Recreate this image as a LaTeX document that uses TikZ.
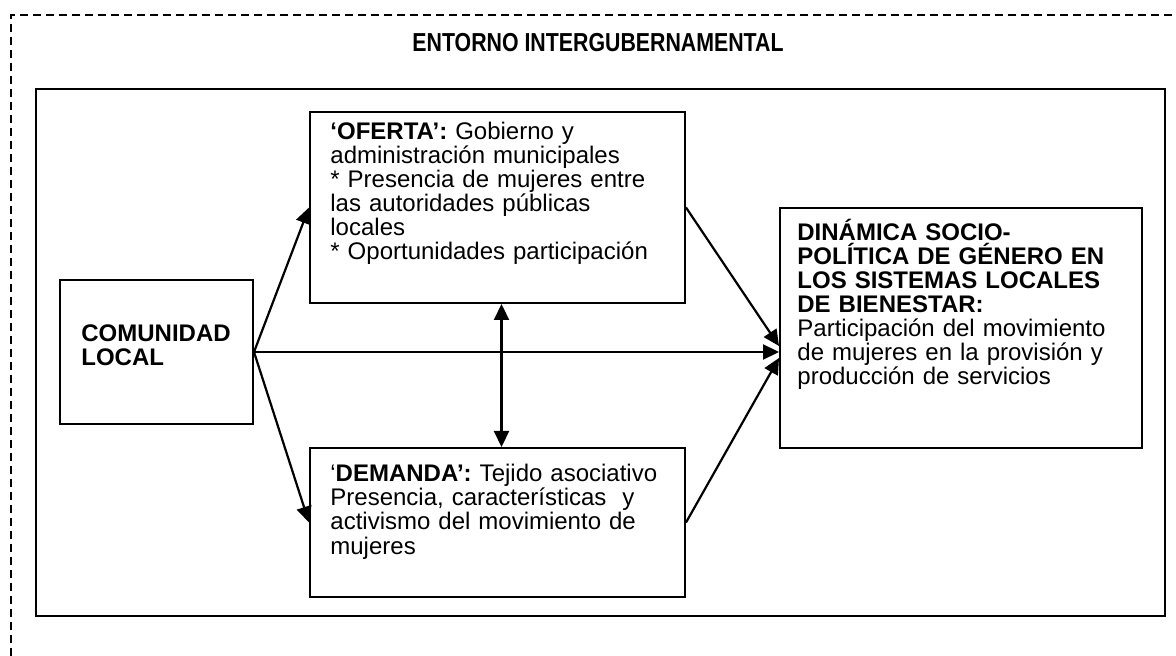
\documentclass[tikz,border=0pt]{standalone}
\usepackage{fontspec}
\setmainfont{Liberation Sans}
\newfontfamily\narrowfont[FakeStretch=0.82]{Liberation Sans}
\usetikzlibrary{calc}
\usetikzlibrary{arrows.meta}
\tikzset{
  caja/.style={draw, line width=1pt, rectangle, inner sep=0pt, anchor=north west},
  txt/.style={inner sep=0pt, anchor=base west, align=left, font=\fontsize{12}{12}\selectfont},
  arr/.style={line width=1.1pt, -{Triangle[length=8pt,width=7.5pt]}},
  arrdos/.style={line width=1.1pt, {Triangle[length=8pt,width=7.5pt]}-{Triangle[length=8pt,width=7.5pt]}}
}

\begin{document}
\begin{tikzpicture}[x=0.5pt, y=-0.5pt]
    \useasboundingbox (0,0) rectangle (1176,656);
    %outer dashed frame
    \draw[line width=0.75pt, dash pattern=on 4pt off 2.5pt] (11,656) -- (11,15) -- (1176,15);
    \node[font=\narrowfont\bfseries\fontsize{13}{13}\selectfont, anchor=base, inner sep=0pt] (titulo) at (598,52) {ENTORNO INTERGUBERNAMENTAL};
    
    %boxes
    \node[caja, minimum width=1129*0.5pt, minimum height=527*0.5pt] (marco) at (35,88) {};
    \node[caja, minimum width=193*0.5pt, minimum height=144*0.5pt] (com) at (59,279) {};
    \node[caja, minimum width=375*0.5pt, minimum height=191*0.5pt] (oferta) at (309,111) {};
    \node[caja, minimum width=375*0.5pt, minimum height=149*0.5pt] (demanda) at (309,447) {};
    \node[caja, minimum width=362*0.5pt, minimum height=240*0.5pt] (dinamica) at (779,207) {};
    
    %texts
    \node[txt, text width=80pt] (comt) at (81,342) {\textbf{COMUNIDAD\\LOCAL}};
    \node[txt, text width=178pt] (ofertat) at (330,140) {\textbf{‘OFERTA’:} Gobierno y\\administración municipales\\{}* Presencia de mujeres entre\\las autoridades públicas\\locales\\{}* Oportunidades participación};
    \node[txt, text width=178pt] (demandat) at (330,482) {‘\textbf{DEMANDA’:} Tejido asociativo\\Presencia, características\ \ y\\activismo del movimiento de\\mujeres};
    \node[txt, text width=170pt] (dinamicat) at (797,241) {\textbf{DINÁMICA SOCIO-\\POLÍTICA DE GÉNERO EN\\LOS SISTEMAS LOCALES\\DE BIENESTAR:}\\Participación del movimiento\\de mujeres en la provisión y\\producción de servicios};
    
    %arrows
    \draw[arr] (com.east) -- (oferta.west);
    \draw[arr] (com.east) -- (demanda.west);
    \draw[arr] (com.east) -- (com.east -| dinamica.west);
    \draw[arr] (oferta.east) -- ($(com.east -| dinamica.west)+(0,-6)$);
    \draw[arr] (demanda.east) -- ($(com.east -| dinamica.west)+(0,6)$);
    \draw[arrdos] ($(oferta.south)+(4,0)$) -- ($(demanda.north)+(4,0)$);
    
\end{tikzpicture}
\end{document}
